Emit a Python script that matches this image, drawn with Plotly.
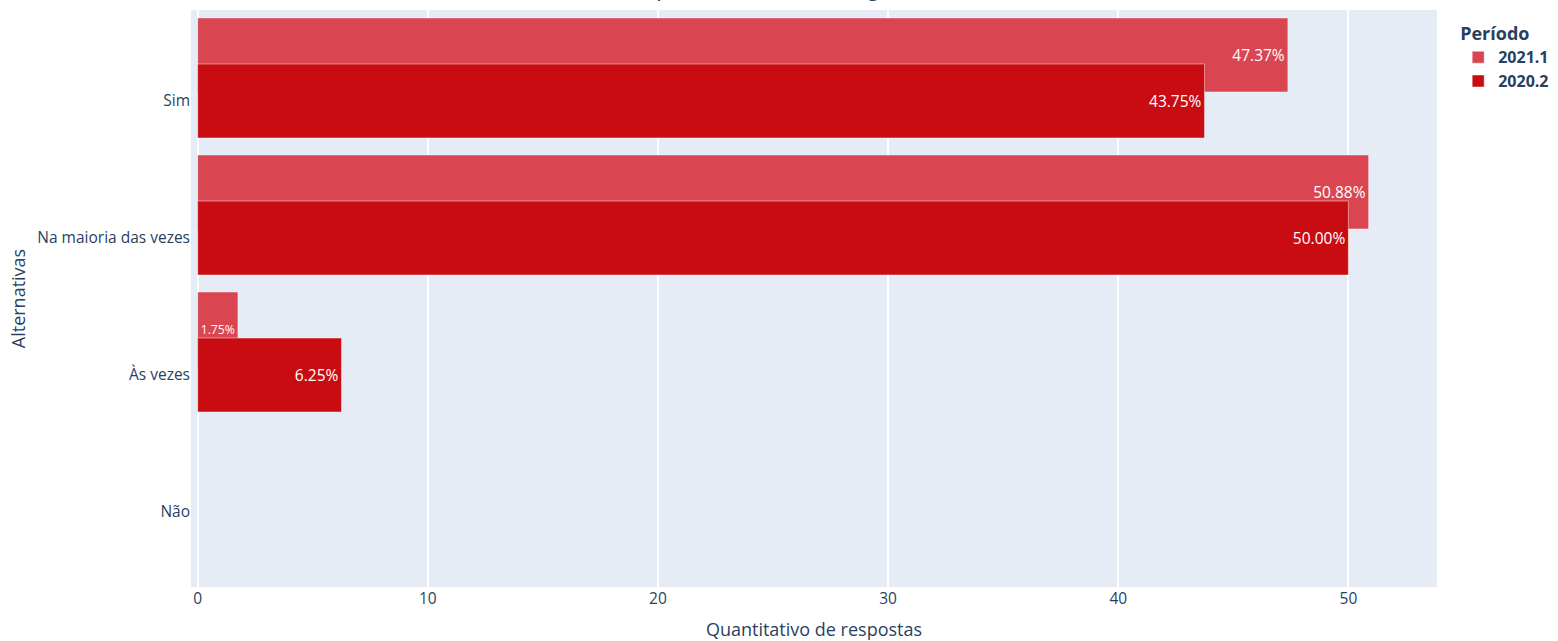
import plotly.graph_objects as go

categories = ["Não", "Às vezes", "Na maioria das vezes", "Sim"]
periods = ["2021.1", "2020.2"]
values_2021_1 = [0.0, 1.75, 50.88, 47.37]
values_2020_2 = [0.0, 6.25, 50.00, 43.75]
colors = {"2021.1": "#D94651", "2020.2": "#C80C11"}
offsets = {"2021.1": 0.066, "2020.2": -0.27}
series = {"2021.1": values_2021_1, "2020.2": values_2020_2}

fig = go.Figure()
for p in periods:
    vals = series[p]
    fig.add_trace(go.Bar(
        y=categories, x=vals, orientation="h", name=p,
        text=[f"{v:.2f}%" if v > 0 else "" for v in vals],
        textposition="inside", insidetextanchor="end", textangle=0,
        textfont=dict(color="#FFFFFF", size=15.5),
        marker=dict(color=colors[p], line=dict(color="rgba(255,255,255,0.45)", width=1)),
        width=0.54, offset=offsets[p],
    ))

fig.update_layout(
    template="plotly",
    width=1558, height=641,
    barmode="overlay",
    font=dict(family="Open Sans, verdana, arial, sans-serif", size=15.5, color="#2a3f5f"),
    margin=dict(l=191, r=121, t=10, b=54, autoexpand=False),
    title=dict(text="O apoio oferecido foi significativo?", x=0.491, xanchor="center",
               xref="paper", yref="paper", y=1, yanchor="bottom", pad=dict(b=15),
               automargin=False, font=dict(size=23)),
    legend=dict(title=dict(text="<b>Período</b>", font=dict(size=18)),
                font=dict(size=16, weight="bold"), tracegroupgap=0, y=0.988, x=1.017),
    xaxis=dict(title=dict(text="Quantitativo de respostas", font=dict(size=18)),
               range=[-0.29, 53.85], tickvals=[0, 10, 20, 30, 40, 50],
               gridwidth=1.5, zerolinewidth=2, automargin=False),
    yaxis=dict(title=dict(text="Alternativas", font=dict(size=18), standoff=6),
               categoryorder="array", categoryarray=categories,
               range=[-0.547, 3.664], automargin=False),
)

fig.write_html(
    "out.html",
    config={"displayModeBar": False},
    post_script="document.body.style.margin='0';document.body.style.overflow='hidden';",
)
